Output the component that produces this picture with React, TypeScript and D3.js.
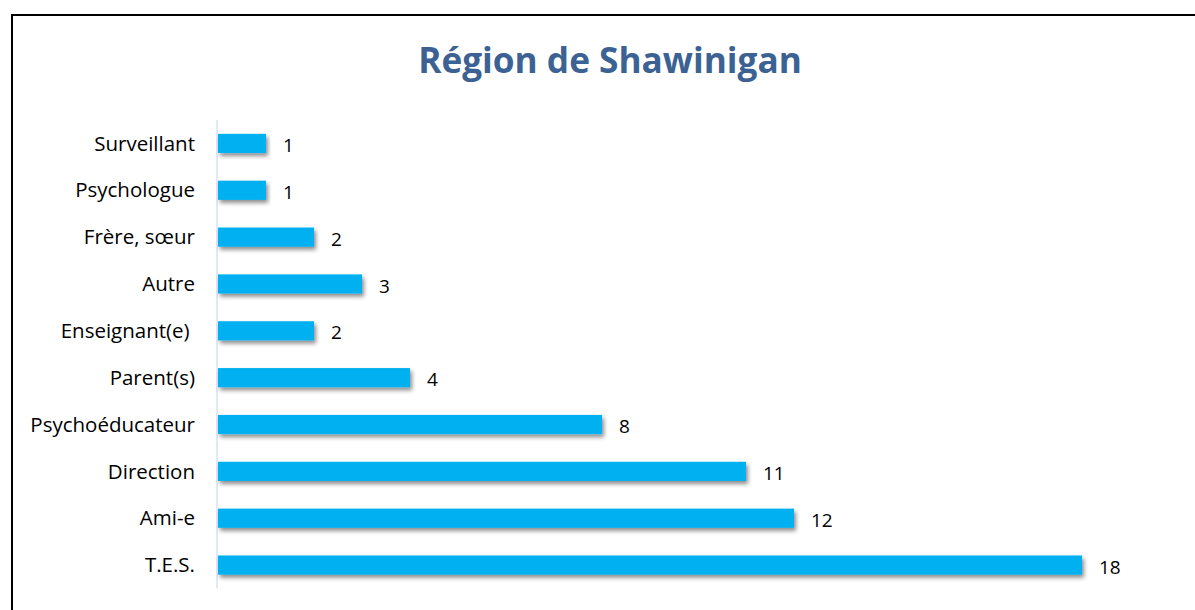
import React from "react";
import * as d3 from "d3";

const categories = ["Surveillant", "Psychologue", "Frère, sœur", "Autre", "Enseignant(e) ", "Parent(s)", "Psychoéducateur", "Direction", "Ami-e", "T.E.S."];
const values = [1, 1, 2, 3, 2, 4, 8, 11, 12, 18];
const title = "Région de Shawinigan";

export default function App() {
  const W = 1195, H = 610;
  const x0 = 218, top = 120, bottom = 588.5;
  const x = d3.scaleLinear().domain([0, 18]).range([x0, x0 + 864]);
  const y = d3.scaleBand<string>().domain(categories).range([top, bottom]).paddingInner(0.59).paddingOuter(0.295);
  const font = "'Open Sans', 'Noto Sans', sans-serif";
  return (
    <svg width={W} height={H} style={{ position: "absolute", left: 0, top: 0, background: "#fff" }}>
      <defs>
        <filter id="sh" x="-5%" y="-50%" width="115%" height="250%">
          <feDropShadow dx="2" dy="3" stdDeviation="2" floodColor="#000" floodOpacity="0.45" />
        </filter>
      </defs>
      <rect x={0} y={0} width={W} height={H} fill="#fff" />
      <rect x={12} y={15} width={W + 20} height={H + 20} fill="none" stroke="#000" strokeWidth={2} />
      <text x={610} y={73} textAnchor="middle" fontFamily={font} fontWeight="bold" fontSize={35.2} fill="#3B6293">{title}</text>
      <line x1={x0 - 1} x2={x0 - 1} y1={top} y2={bottom} stroke="#D9E1F2" strokeWidth={1.5} />
      {categories.map((c, i) => {
        const yy = y(c)!;
        const bw = y.bandwidth();
        return (
          <g key={c}>
            <rect x={x(0)} y={yy} width={x(values[i]) - x(0)} height={bw} fill="#00B0F0" filter="url(#sh)" />
            <text x={195} y={yy + bw / 2} dy="0.35em" textAnchor="end" fontFamily={font} fontSize={20.5} fill="#000" style={{ whiteSpace: "pre" }}>{c}</text>
            <text x={x(values[i]) + 17} y={yy + bw / 2 + 2} dy="0.35em" fontFamily={font} fontSize={19} fill="#000">{values[i]}</text>
          </g>
        );
      })}
    </svg>
  );
}
